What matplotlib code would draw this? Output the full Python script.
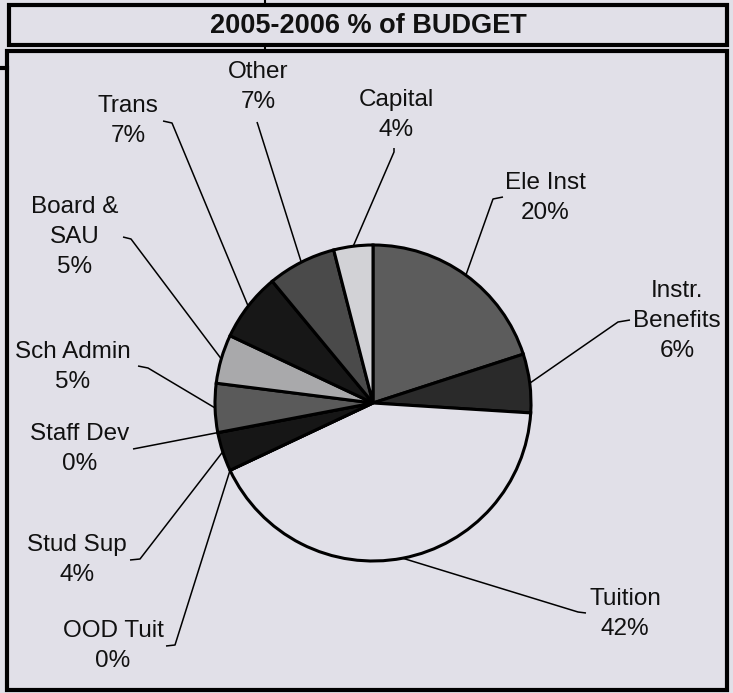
import matplotlib
matplotlib.use("Agg")
import matplotlib.pyplot as plt
import numpy as np

# data (clockwise from 12 o'clock)
categories = ["Ele Inst", "Instr.\nBenefits", "Tuition", "OOD Tuit", "Stud Sup",
              "Staff Dev", "Sch Admin", "Board &\nSAU", "Trans", "Other", "Capital"]
percents = [20, 6, 42, 0, 4, 0, 5, 5, 7, 7, 4]
title = "2005-2006 % of BUDGET"

BG = "#e1e0e8"
colors = ["#5c5c5c", "#2a2a2a", BG, "#222222", "#161616", "#222222",
          "#5a5a5a", "#a9a9ab", "#171717", "#4a4a4a", "#d2d2d6"]

W, H = 733, 693
# label layout in pixel coords: text centre, elbow of leader, end of short hook
label_pos = {
    "Ele Inst": ((545, 198), (493, 199), (503, 197)),
    "Instr.\nBenefits": ((677, 321), (618, 322), (630, 320)),
    "Tuition": ((625, 614), (578, 612), (586, 613)),
    "OOD Tuit": ((113, 646), (175, 645), (166, 646)),
    "Stud Sup": ((77, 560), (140, 559), (130, 560)),
    "Staff Dev": ((80, 449), (133, 449), (133, 449)),
    "Sch Admin": ((73, 367), (148, 368), (138, 366)),
    "Board &\nSAU": ((75, 237), (131, 239), (123, 237)),
    "Trans": ((128, 121), (172, 123), (163, 121)),
    "Other": ((258, 87), (258, 125), (257, 122)),
    "Capital": ((396, 115), (394, 152), (394, 148)),
}
cx, cy, r = 373, 403, 158


def P(x, y):
    # pixel (top-left origin) -> axes data coords
    return x, H - y


plt.rcParams['font.family'] = ['Liberation Sans', 'DejaVu Sans']
fig = plt.figure(figsize=(W / 100, H / 100), dpi=100, facecolor=BG)
ax = fig.add_axes([0, 0, 1, 1])
ax.set_facecolor(BG)

ax.pie(percents, colors=colors, startangle=90, counterclock=False,
       center=P(cx, cy), radius=r, normalize=True,
       wedgeprops=dict(edgecolor="black", linewidth=2.2))

# leader lines and labels
cum = np.cumsum([0] + percents)
for i, name in enumerate(categories):
    mid = (cum[i] + cum[i + 1]) / 2 / 100 * 2 * np.pi
    ex, ey = cx + r * np.sin(mid), cy - r * np.cos(mid)
    (tx, ty), (bx, by), (hx, hy) = label_pos[name]
    xs, ys = zip(P(ex, ey), P(bx, by), P(hx, hy))
    ax.plot(xs, ys, color="black", lw=1.1, solid_capstyle="butt")
    ax.text(*P(tx, ty), f"{name}\n{percents[i]}%", ha="center", va="center",
            fontsize=17.5, linespacing=1.45, color="#111111")

# title box and plot frame
ax.add_patch(plt.Rectangle(P(9, 45), 718, 40, fill=False, lw=3, ec="black"))
ax.add_patch(plt.Rectangle(P(7, 690), 720, 639, fill=False, lw=3, ec="black"))
ax.plot(*zip(P(0, 68), P(7, 68)), color="black", lw=3)
ax.plot(*zip(P(265, 0), P(265, 5)), color="black", lw=1.5)
ax.plot(*zip(P(265, 45), P(265, 51)), color="black", lw=1.5)
ax.text(*P(368, 26), title, ha="center", va="center", fontsize=19.5,
        fontweight="bold", color="#111111")

ax.set_xlim(0, W)
ax.set_ylim(0, H)
ax.set_aspect("auto")
ax.axis("off")

fig.savefig("out.png", dpi=100, facecolor=BG)
